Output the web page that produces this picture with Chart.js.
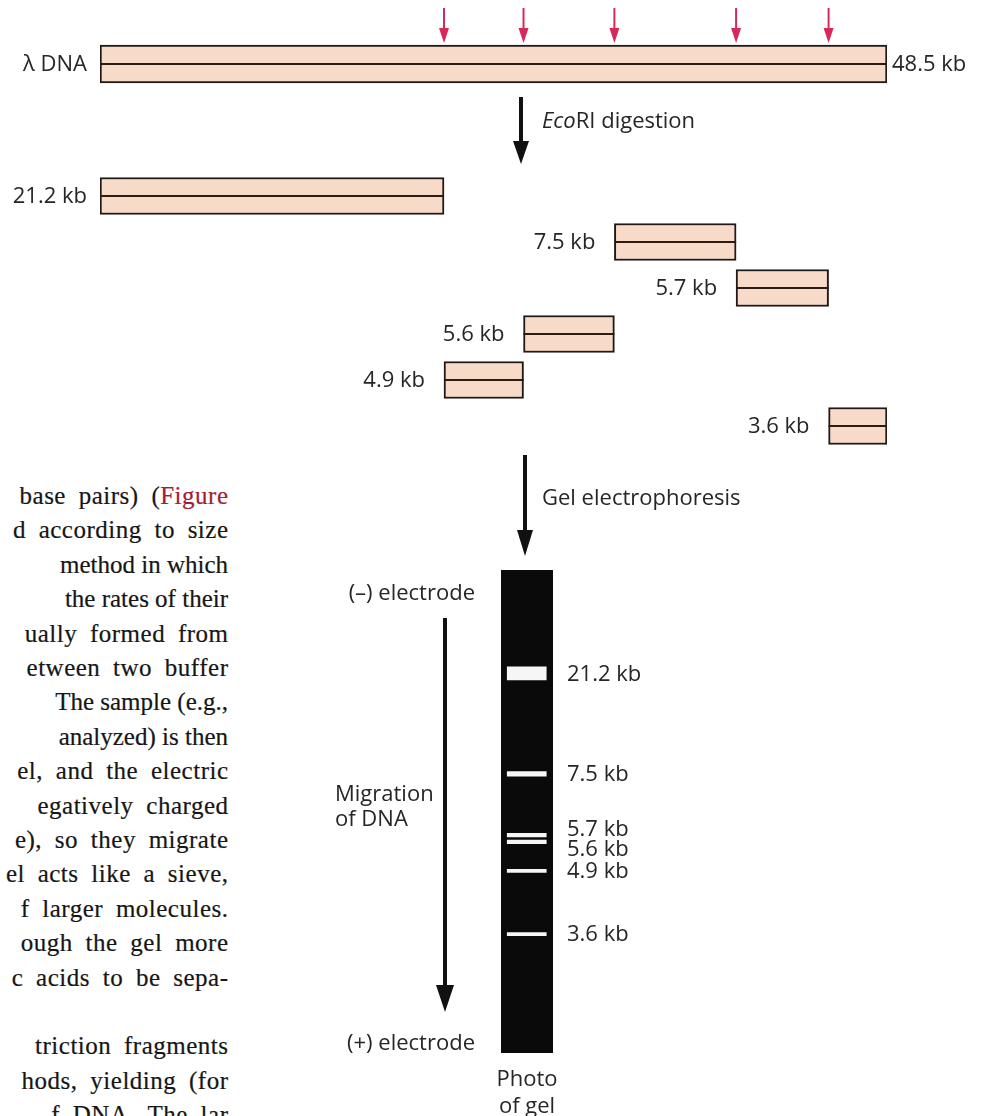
<!DOCTYPE html>
<html>
<head>
<meta charset="utf-8">
<script src="https://cdn.jsdelivr.net/npm/chart.js@4.4.1/dist/chart.umd.min.js"></script>
<style>
html,body{margin:0;padding:0;background:#fff;}
body{width:982px;height:1116px;position:relative;overflow:hidden;font-family:'Open Sans',sans-serif;color:#262626;}
canvas{position:absolute;}
.lbl{position:absolute;font-size:22px;line-height:22px;white-space:nowrap;}
.ln{position:absolute;right:754px;white-space:nowrap;font-family:'Liberation Serif',serif;font-size:25px;line-height:34px;color:#161616;-webkit-text-stroke:0.2px #161616;}
.fig{color:#a31d35;-webkit-text-stroke:0.2px #a31d35;}
svg{position:absolute;left:0;top:0;}
</style>
</head>
<body>
<div id="textcol"></div>

<canvas id="lambda" width="982" height="128" style="left:0;top:0;width:982px;height:128px"></canvas>
<canvas id="frags" width="982" height="310" style="left:0;top:150px;width:982px;height:310px"></canvas>
<canvas id="gel" width="200" height="556" style="left:480px;top:560px;width:200px;height:556px"></canvas>

<svg width="982" height="1116" viewBox="0 0 982 1116">
  <g fill="#111" stroke="none">
    <rect x="519" y="97" width="4" height="48"/>
    <polygon points="513,141 529,141 521,164"/>
    <rect x="523" y="455" width="4" height="78"/>
    <polygon points="517,530 533,530 525,556"/>
    <rect x="443" y="618" width="4" height="370"/>
    <polygon points="436,985 454,985 445,1012"/>
  </g>
</svg>

<div class="lbl" style="left:542px;top:108px"><i>Eco</i>RI digestion</div>
<div class="lbl" style="left:542px;top:485px">Gel electrophoresis</div>
<div class="lbl" style="right:507px;top:580px">(–) electrode</div>
<div class="lbl" style="left:335px;top:781px">Migration</div>
<div class="lbl" style="left:335px;top:806px">of DNA</div>
<div class="lbl" style="right:507px;top:1030px">(+) electrode</div>
<div class="lbl" style="left:477px;width:100px;text-align:center;top:1066px">Photo</div>
<div class="lbl" style="left:477px;width:100px;text-align:center;top:1093px">of gel</div>

<script>
// ---------------- data ----------------
const genomeLabel = 'λ DNA';
const genomeLength = 48.5;                                      // kb
const fragmentsInGenomeOrder = [21.2, 4.9, 5.6, 7.5, 5.7, 3.6]; // kb, left to right along λ
const fragmentsBySize = [21.2, 7.5, 5.7, 5.6, 4.9, 3.6];        // kb, rows / gel bands
const bandMigration = [2.14, 4.22, 5.49, 5.63, 6.23, 7.54];     // cm from well
const gelLength = 10;                                           // cm

// page text beside the figure (visible part of each justified line)
const bodyLines = [
  'base pairs) (<span class="fig">Figure</span>',
  'd according to size',
  'method in which',
  'the rates of their',
  'ually formed from',
  'etween two buffer',
  'The sample (e.g.,',
  'analyzed) is then',
  'el, and the electric',
  'egatively charged',
  'e), so they migrate',
  'el acts like a sieve,',
  'f larger molecules.',
  'ough the gel more',
  'c acids to be sepa-',
  '',
  'triction fragments',
  'hods, yielding (for',
  'f DNA. The lar'
];
const lineStarts = [-4, -3, 73, 66, 1, 2, 81, 72, -3, 2, -5, -5, -4, -2, -5, 0, 1, -4, -4];
const TEXT_RIGHT = 228;

// ---------------- body text (lightly justified) ----------------
const col = document.getElementById('textcol');
bodyLines.forEach((t, i) => {
  if (!t) return;
  const d = document.createElement('div');
  d.className = 'ln';
  d.style.top = (479 + i * 34.4) + 'px';
  d.innerHTML = t;
  col.appendChild(d);
  const w = d.getBoundingClientRect().width;
  const plain = d.textContent;
  const n = plain.length - 1;
  const s = (plain.match(/ /g) || []).length;
  const extra = (TEXT_RIGHT - lineStarts[i]) - w;
  let ls = 0, ws = 0;
  if (extra > 0) {
    ls = Math.min(0.5, (extra * 0.4) / n);
    ws = s ? Math.min(6, (extra - ls * n) / s) : 0;
  }
  d.style.letterSpacing = ls + 'px';
  d.style.wordSpacing = ws + 'px';
  d.style.right = (982 - TEXT_RIGHT - ls) + 'px';
});

// ---------------- derived ----------------
const starts = [];
let acc = 0;
fragmentsInGenomeOrder.forEach(f => { starts.push(acc); acc += f; });
const cutSites = starts.slice(1).map(v => +v.toFixed(2));
const startOf = size => starts[fragmentsInGenomeOrder.indexOf(size)];

const FILL = '#f8dac8';
const EDGE = '#1f1a18';
const LABEL_FONT = '22px "Open Sans"';
const LABEL_COLOR = '#262626';

const midline = {
  id: 'midline',
  afterDatasetsDraw(chart) {
    const ctx = chart.ctx;
    ctx.save();
    ctx.strokeStyle = '#2a1c15';
    ctx.lineWidth = 2;
    chart.getDatasetMeta(0).data.forEach(el => {
      ctx.beginPath();
      ctx.moveTo(Math.min(el.base, el.x), el.y);
      ctx.lineTo(Math.max(el.base, el.x), el.y);
      ctx.stroke();
    });
    ctx.restore();
  }
};

const rowLabels = {
  id: 'rowLabels',
  afterDatasetsDraw(chart, args, opts) {
    const ctx = chart.ctx;
    ctx.save();
    ctx.font = LABEL_FONT;
    ctx.fillStyle = LABEL_COLOR;
    ctx.textBaseline = 'middle';
    const labels = chart.data.labels;
    chart.getDatasetMeta(0).data.forEach((el, i) => {
      const left = Math.min(el.base, el.x);
      const gap = (chart.data.datasets[0].data[i][0] === 0) ? 13 : 19;
      ctx.textAlign = 'right';
      ctx.fillText(labels[i], left - gap, el.y + 1);
      if (opts.rightText) {
        ctx.textAlign = 'left';
        ctx.fillText(opts.rightText, Math.max(el.base, el.x) + 5, el.y + 1);
      }
    });
    ctx.restore();
  }
};

const cutArrows = {
  id: 'cutArrows',
  afterDatasetsDraw(chart) {
    const ctx = chart.ctx;
    const el = chart.getDatasetMeta(0).data[0];
    const top = el.y - el.height / 2;
    const xs = chart.scales.x;
    ctx.save();
    ctx.strokeStyle = '#d8285a';
    ctx.fillStyle = '#d8285a';
    ctx.lineWidth = 2;
    cutSites.forEach(c => {
      const x = xs.getPixelForValue(c);
      ctx.beginPath();
      ctx.moveTo(x, top - 37);
      ctx.lineTo(x, top - 14);
      ctx.stroke();
      ctx.beginPath();
      ctx.moveTo(x - 5, top - 17);
      ctx.lineTo(x + 5, top - 17);
      ctx.lineTo(x, top - 2);
      ctx.closePath();
      ctx.fill();
    });
    ctx.restore();
  }
};

const baseOptions = (padding) => ({
  indexAxis: 'y',
  responsive: false,
  animation: false,
  events: [],
  layout: { padding },
  plugins: { legend: { display: false }, tooltip: { enabled: false } }
});

// ---------------- λ DNA ----------------
const o1 = baseOptions({ left: 100, right: 95, top: 0, bottom: 0 });
o1.scales = {
  x: { type: 'linear', min: 0, max: genomeLength, display: false },
  y: { type: 'category', display: false }
};
o1.plugins.rowLabels = { rightText: genomeLength + ' kb' };
new Chart(document.getElementById('lambda'), {
  type: 'bar',
  data: {
    labels: [genomeLabel],
    datasets: [{
      data: [[0, genomeLength]],
      backgroundColor: FILL, borderColor: EDGE, borderWidth: 2,
      borderSkipped: false, barThickness: 38
    }]
  },
  options: o1,
  plugins: [midline, rowLabels, cutArrows]
});

// ---------------- fragments ----------------
const o2 = baseOptions({ left: 100, right: 95, top: 23, bottom: 11 });
o2.scales = {
  x: { type: 'linear', min: 0, max: genomeLength, display: false },
  y: { type: 'category', display: false }
};
o2.plugins.rowLabels = {};
new Chart(document.getElementById('frags'), {
  type: 'bar',
  data: {
    labels: fragmentsBySize.map(s => s + ' kb'),
    datasets: [{
      data: fragmentsBySize.map(s => [startOf(s), +(startOf(s) + s).toFixed(2)]),
      backgroundColor: FILL, borderColor: EDGE, borderWidth: 2,
      borderSkipped: false, barThickness: 37
    }]
  },
  options: o2,
  plugins: [midline, rowLabels]
});

// ---------------- gel ----------------
const gelBackground = {
  id: 'gelBackground',
  beforeDatasetsDraw(chart) {
    const { ctx, chartArea: a } = chart;
    ctx.save();
    ctx.fillStyle = '#0a0a0a';
    ctx.fillRect(a.left, a.top, a.right - a.left, a.bottom - a.top);
    ctx.restore();
  }
};
const gelLabels = {
  id: 'gelLabels',
  afterDatasetsDraw(chart) {
    const { ctx, chartArea: a } = chart;
    const ys = chart.scales.y;
    const pos = bandMigration.map(m => ys.getPixelForValue(m));
    const MIN = 20;
    for (let it = 0; it < 50; it++) {
      for (let i = 1; i < pos.length; i++) {
        const d = pos[i] - pos[i - 1];
        if (d < MIN) { const s = (MIN - d) / 2; pos[i - 1] -= s; pos[i] += s; }
      }
    }
    ctx.save();
    ctx.font = LABEL_FONT;
    ctx.fillStyle = LABEL_COLOR;
    ctx.textBaseline = 'middle';
    ctx.textAlign = 'left';
    fragmentsBySize.forEach((s, i) => ctx.fillText(s + ' kb', a.right + 14, pos[i] + 1));
    ctx.restore();
  }
};
const o3 = baseOptions({ left: 21, right: 127, top: 10, bottom: 63 });
o3.scales = {
  x: { type: 'linear', min: 0, max: 1, offset: false, display: false },
  y: { type: 'linear', min: 0, max: gelLength, reverse: true, offset: false, display: false }
};
new Chart(document.getElementById('gel'), {
  type: 'bar',
  data: {
    datasets: fragmentsBySize.map((s, i) => ({
      data: [{ x: [0.12, 0.87], y: bandMigration[i] }],
      backgroundColor: '#f6f6f6', borderWidth: 0,
      barThickness: Math.max(3, s * 0.62), grouped: false
    }))
  },
  options: o3,
  plugins: [gelBackground, gelLabels]
});
</script>
</body>
</html>
